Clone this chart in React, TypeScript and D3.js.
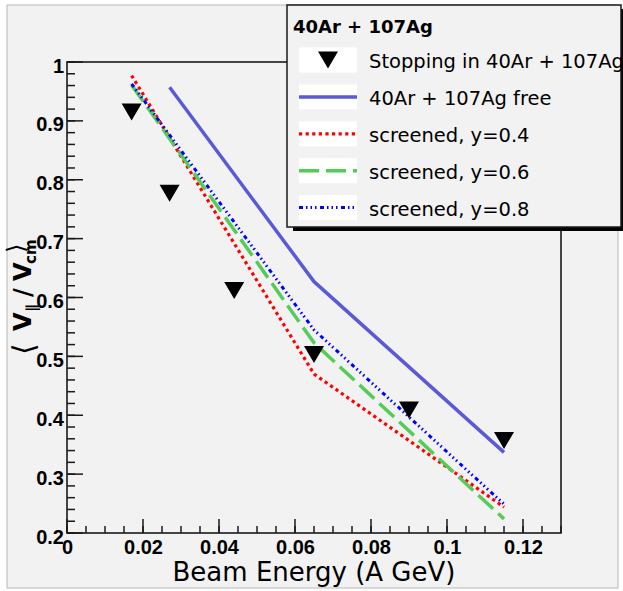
import React from "react";
import * as d3 from "d3";

const W = 623;
const H = 591;

// Measured stopping points
const stopEnergy = [0.017, 0.027, 0.044, 0.065, 0.09, 0.115];
const stopValue = [0.915, 0.777, 0.612, 0.503, 0.409, 0.357];

// Free nucleon-nucleon cross sections
const freeEnergy = [0.027, 0.065, 0.115];
const freeValue = [0.957, 0.627, 0.337];

// In-medium screened cross sections
const screenEnergy = [0.017, 0.065, 0.115];
const screenY04 = [0.977, 0.47, 0.244];
const screenY06 = [0.961, 0.523, 0.224];
const screenY08 = [0.963, 0.545, 0.249];

const xMajor = [0, 0.02, 0.04, 0.06, 0.08, 0.1, 0.12];
const xLabels = ["0", "0.02", "0.04", "0.06", "0.08", "0.1", "0.12"];
const yMajor = [0.2, 0.3, 0.4, 0.5, 0.6, 0.7, 0.8, 0.9, 1.0];
const yLabels = ["0.2", "0.3", "0.4", "0.5", "0.6", "0.7", "0.8", "0.9", "1"];

const legendTitle = "40Ar + 107Ag";
const legendLabels = [
  "Stopping in 40Ar + 107Ag",
  "40Ar + 107Ag free",
  "screened, y=0.4",
  "screened, y=0.6",
  "screened, y=0.8",
];

const BG = "#f2f2f2";
const TICK_FONT = "'Liberation Sans', Arial, sans-serif";
const TEXT_FONT = "'DejaVu Sans', sans-serif";

const x = d3.scaleLinear().domain([0, 0.13]).range([67, 561]);
const y = d3.scaleLinear().domain([0.2, 1]).range([533, 62]);

const xMinor = d3.range(0, 0.13 + 1e-9, 0.005);
const yMinor = d3.range(0.2, 1 + 1e-9, 0.02);

const line = d3
  .line<[number, number]>()
  .x((d) => x(d[0]))
  .y((d) => y(d[1]));

const pairs = (xs: number[], ys: number[]) =>
  xs.map((v, i) => [v, ys[i]] as [number, number]);

const styles = [
  { kind: "marker" },
  { kind: "line", color: "#5a5ad8", width: 3.5, dash: undefined as string | undefined },
  { kind: "line", color: "#ff0000", width: 3.2, dash: "3.2 3.4" },
  { kind: "line", color: "#55cc55", width: 3.5, dash: "20 7" },
  { kind: "line", color: "#0000ff", width: 3, dash: "4 3 1.5 3 1.5 3 1.5 3.5" },
];

function triangle(cx: number, cy: number) {
  const hw = 10;
  const hh = 8.5;
  return `M${cx - hw},${cy - hh}L${cx + hw},${cy - hh}L${cx},${cy + hh}Z`;
}

export default function App() {
  const series = [
    { xs: freeEnergy, ys: freeValue, st: styles[1] },
    { xs: screenEnergy, ys: screenY04, st: styles[2] },
    { xs: screenEnergy, ys: screenY06, st: styles[3] },
    { xs: screenEnergy, ys: screenY08, st: styles[4] },
  ];

  const legX = 287;
  const legY = 5;
  const legW = 334;
  const legH = 222;
  const rowY = (i: number) => 60 + i * 36.9;

  return (
    <svg
      width={W}
      height={H}
      style={{ position: "absolute", left: 0, top: 0, background: "#fff" }}
    >
      {/* canvas */}
      <rect x={7} y={5} width={611} height={583} fill={BG} stroke="#b8b8b8" strokeWidth={1} />

      {/* frame */}
      <rect x={x(0)} y={y(1)} width={x(0.13) - x(0)} height={y(0.2) - y(1)} fill={BG} stroke="#1a1a1a" strokeWidth={1.6} />

      {/* curves */}
      {series.map((s, i) => (
        <path
          key={i}
          d={line(pairs(s.xs, s.ys)) || ""}
          fill="none"
          stroke={s.st.color}
          strokeWidth={s.st.width}
          strokeDasharray={s.st.dash}
          strokeLinejoin="round"
        />
      ))}

      {/* stopping markers */}
      {stopEnergy.map((e, i) => (
        <path key={i} d={triangle(x(e), y(stopValue[i]))} fill="#000" />
      ))}

      {/* y axis ticks */}
      {yMinor.map((v, i) => (
        <line key={"ym" + i} x1={x(0)} x2={x(0) + 8} y1={y(v)} y2={y(v)} stroke="#1a1a1a" strokeWidth={1.5} />
      ))}
      {yMajor.map((v, i) => (
        <line key={"yM" + i} x1={x(0)} x2={x(0) + 16} y1={y(v)} y2={y(v)} stroke="#1a1a1a" strokeWidth={1.5} />
      ))}
      {yMajor.map((v, i) => (
        <text key={"yl" + i} x={64} y={y(v) + 10.5} textAnchor="end" fontFamily={TICK_FONT} fontWeight="bold" fontSize={20} fill="#000">
          {yLabels[i]}
        </text>
      ))}

      {/* x axis ticks */}
      {xMinor.map((v, i) => (
        <line key={"xm" + i} x1={x(v)} x2={x(v)} y1={y(0.2)} y2={y(0.2) - 7} stroke="#1a1a1a" strokeWidth={1.5} />
      ))}
      {xMajor.map((v, i) => (
        <line key={"xM" + i} x1={x(v)} x2={x(v)} y1={y(0.2)} y2={y(0.2) - 14} stroke="#1a1a1a" strokeWidth={1.5} />
      ))}
      {xMajor.map((v, i) => (
        <text key={"xl" + i} x={x(v) + 0.5} y={554} textAnchor="middle" fontFamily={TICK_FONT} fontWeight="bold" fontSize={20} fill="#000">
          {xLabels[i]}
        </text>
      ))}

      {/* axis titles */}
      <text x={314} y={581} textAnchor="middle" fontFamily={TEXT_FONT} fontSize={26} fill="#000">
        Beam Energy (A GeV)
      </text>
      <g transform="translate(31,297) rotate(-90)" fontFamily={TEXT_FONT} fill="#000">
        <text x={-58} y={3} fontSize={30}>⟨</text>
        <text x={-34} y={0} fontSize={24} fontWeight="bold">V</text>
        <text x={-15} y={6} fontSize={15} fontWeight="bold">∥</text>
        <text x={0} y={0} fontSize={24} fontWeight="bold">/</text>
        <text x={16} y={0} fontSize={24} fontWeight="bold">V</text>
        <text x={33} y={5} fontSize={15} fontWeight="bold">cm</text>
        <text x={44} y={-7} fontSize={24}>⟩</text>
      </g>

      {/* legend */}
      <rect x={legX + 6} y={legY + 4} width={legW} height={legH} fill="#000" />
      <rect x={legX} y={legY} width={legW} height={legH} fill={BG} stroke="#1a1a1a" strokeWidth={1.5} />
      <text x={293} y={33} fontFamily={TEXT_FONT} fontWeight="bold" fontSize={18} fill="#000">
        {legendTitle}
      </text>
      {legendLabels.map((lab, i) => {
        const cy = rowY(i);
        const st = styles[i];
        return (
          <g key={"lg" + i}>
            <rect x={299} y={cy - 12.5} width={58} height={25} fill="#fff" />
            {st.kind === "marker" ? (
              <path d={triangle(328, cy)} fill="#000" />
            ) : (
              <line x1={299} x2={357} y1={cy} y2={cy} stroke={st.color} strokeWidth={st.width} strokeDasharray={st.dash} />
            )}
            <text x={369} y={cy + 8} fontFamily={TEXT_FONT} fontSize={19.5} fill="#000">
              {lab}
            </text>
          </g>
        );
      })}
    </svg>
  );
}
